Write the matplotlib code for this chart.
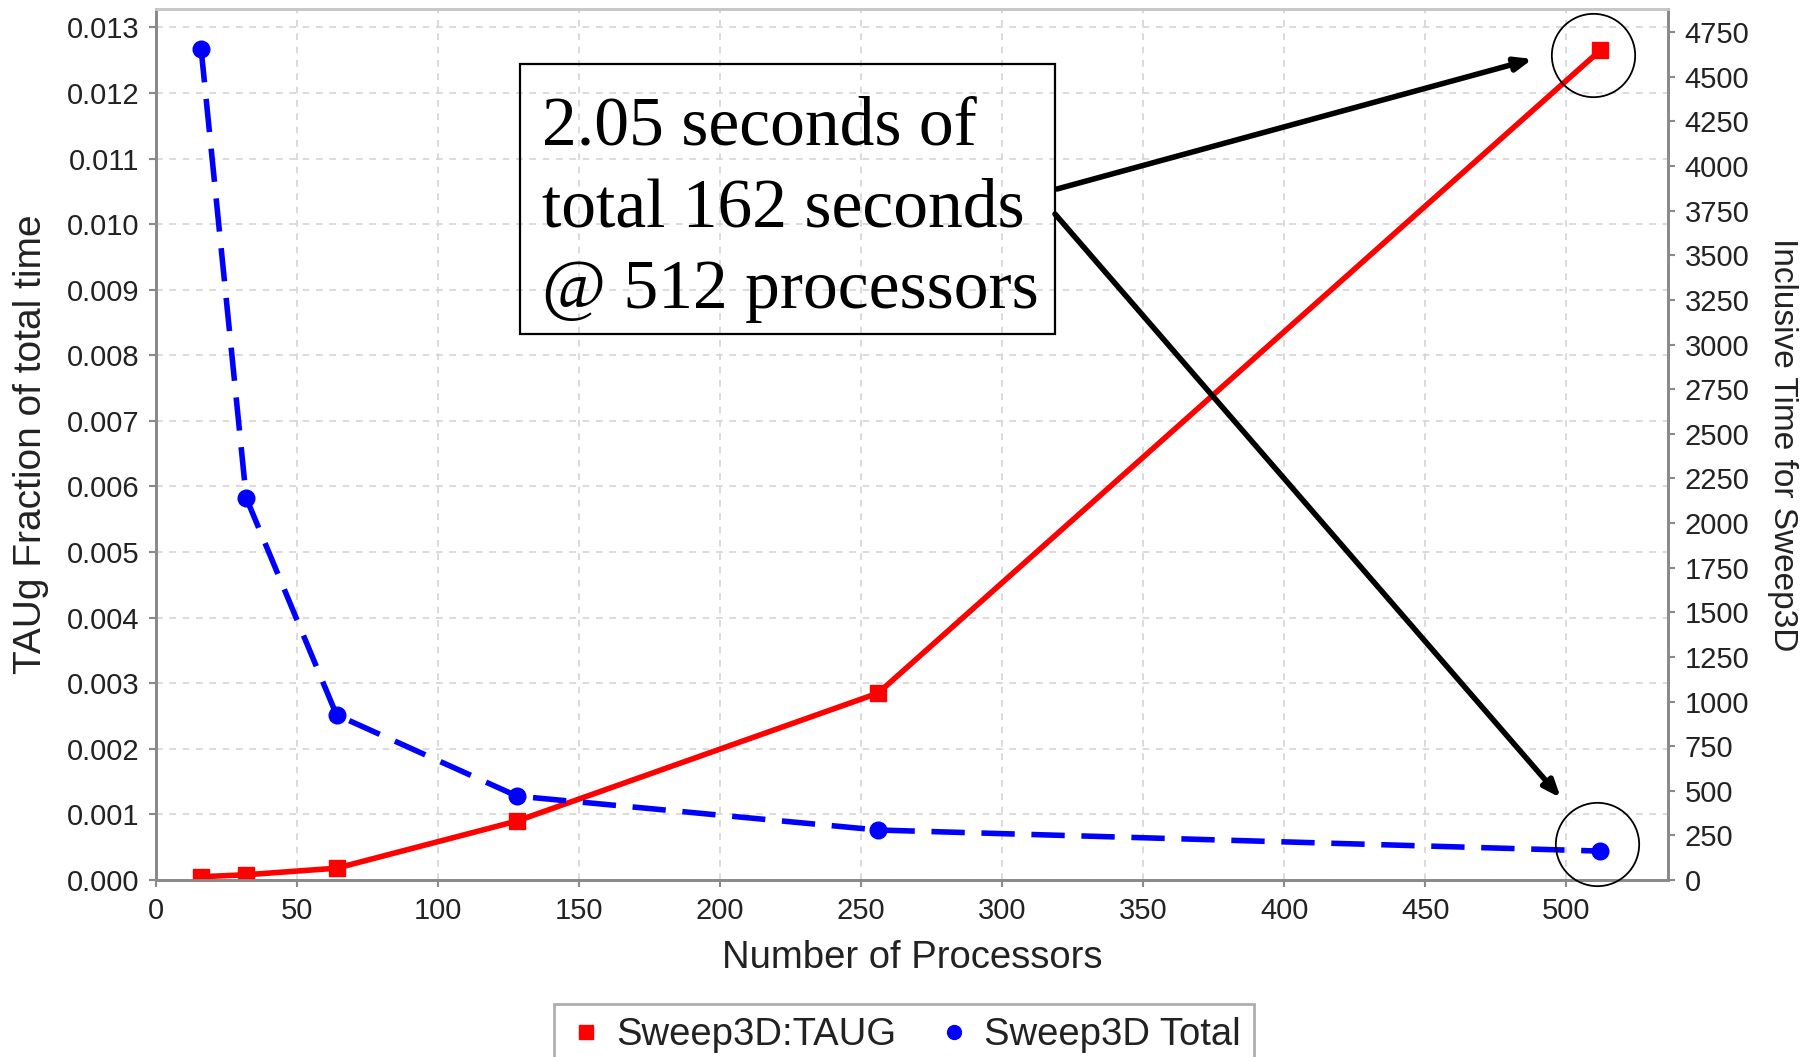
import matplotlib
matplotlib.use("Agg")
import matplotlib.pyplot as plt
from matplotlib.lines import Line2D
from matplotlib.patches import Rectangle
from matplotlib.transforms import offset_copy
import numpy as np

# ---- data ----
processors = [16, 32, 64, 128, 256, 512]
taug_fraction = [0.00005, 0.00008, 0.00018, 0.0009, 0.00285, 0.01265]
total_time = [4655, 2140, 925, 470, 280, 162]

x_ticks = list(range(0, 501, 50))
left_ticks = [i * 0.001 for i in range(0, 14)]
right_ticks = list(range(0, 4751, 250))

series_names = ["Sweep3D:TAUG", "Sweep3D Total"]
x_label = "Number of Processors"
left_label = "TAUg Fraction of total time"
right_label = "Inclusive Time for Sweep3D"
note_text = "2.05 seconds of\ntotal 162 seconds\n@ 512 processors"

plt.rcParams['font.family'] = ['Liberation Sans', 'DejaVu Sans']

W, H = 1814, 1057
fig = plt.figure(figsize=(W / 100, H / 100), dpi=100)
fig.patch.set_facecolor('white')

left_px, right_px, top_px, bottom_px = 156, 1668, 9, 880
ax = fig.add_axes([left_px / W, 1 - bottom_px / H, (right_px - left_px) / W, (bottom_px - top_px) / H])
ax2 = ax.twinx()

ax.set_xlim(0, 536)
ax.set_ylim(0, 0.01328)
ax2.set_ylim(0, 4880)

spine_gray = '#8a8a8a'
tick_color = '#222222'

# grid
ax.set_axisbelow(True)
ax.grid(True, color='#d4d4d4', linestyle=(0, (4, 4)), linewidth=1.2)

# lines
ax.plot(processors, taug_fraction, color='#ff0000', linewidth=4.0, marker='s',
        markersize=12, zorder=5, solid_joinstyle='miter')
ax2.plot(processors, total_time, color='#0000ff', linewidth=4.0, marker='o',
         markersize=12, dashes=(6.0, 3.0), zorder=5)

# ticks
ax.set_xticks(x_ticks)
ax.set_yticks(left_ticks)
ax.set_yticklabels([f"{v:.3f}" for v in left_ticks])
ax2.set_yticks(right_ticks)
ax2.set_yticklabels([str(v) for v in right_ticks])

for a in (ax, ax2):
    a.tick_params(axis='both', which='both', direction='out', length=5, width=1.5,
                  color=spine_gray, labelsize=21, labelcolor=tick_color, pad=7)
    for s in ['left', 'right', 'bottom']:
        a.spines[s].set_color(spine_gray)
        a.spines[s].set_linewidth(2)
    a.spines['top'].set_color('#c8c8c8')
    a.spines['top'].set_linewidth(2)

# labels
ax.set_xlabel(x_label, fontsize=27.5, color=tick_color)
ax.set_ylabel(left_label, fontsize=28, color=tick_color)
ax2.set_ylabel(right_label, fontsize=24, color=tick_color, rotation=270)
ax.xaxis.set_label_coords(0.50, -0.09)
ax.xaxis.label.set_va('center')
ax.yaxis.set_label_coords(-0.0827, 0.5)
ax.yaxis.label.set_va('center')
ax.yaxis.label.set_ha('center')
ax2.yaxis.set_label_coords(1.0754, 0.5)
ax2.yaxis.label.set_va('center')
ax2.yaxis.label.set_ha('center')

# annotation box (transparent, grid shows through)
box_x0, box_x1, box_y0, box_y1 = 519.5, 1055, 63.6, 334.4
fig.patches.append(Rectangle((box_x0 / W, 1 - box_y1 / H), (box_x1 - box_x0) / W, (box_y1 - box_y0) / H,
                             transform=fig.transFigure, facecolor='none', edgecolor='black',
                             linewidth=1.6, zorder=10))
fig.text(542 / W, 1 - 209.5 / H, note_text, fontsize=50, family='Liberation Serif',
         ha='left', va='center', linespacing=1.37, zorder=10)

# circles around last points
circ1_tr = offset_copy(ax.transData, fig=fig, x=-5.5, y=-3.3, units='points')
ax.plot(processors[-1:], taug_fraction[-1:], marker='o', markersize=60, fillstyle='none',
        markeredgecolor='black', markeredgewidth=1.3, linestyle='none',
        transform=circ1_tr, zorder=6, clip_on=False)
circ2_tr = offset_copy(ax2.transData, fig=fig, x=-2.5, y=5.0, units='points')
ax2.plot(processors[-1:], total_time[-1:], marker='o', markersize=60, fillstyle='none',
         markeredgecolor='black', markeredgewidth=1.3, linestyle='none',
         transform=circ2_tr, zorder=6, clip_on=False)

# arrows
arrow_kw = dict(arrowstyle='-|>,head_length=1.0,head_width=0.4', color='black',
                linewidth=4.0, shrinkA=0, shrinkB=0)
ax2.annotate('', xy=(488, 4600), xycoords='data',
             xytext=(1057 / W, 1 - 189 / H), textcoords='figure fraction',
             arrowprops=arrow_kw, zorder=11)
ax2.annotate('', xy=(498, 460), xycoords='data',
             xytext=(1055 / W, 1 - 214 / H), textcoords='figure fraction',
             arrowprops=arrow_kw, zorder=11)

# legend
handles = [
    Line2D([], [], color='#ff0000', marker='s', linestyle='none', markersize=10),
    Line2D([], [], color='#0000ff', marker='o', linestyle='none', markersize=10),
]
leg = fig.legend(handles, series_names, loc='upper center', bbox_to_anchor=(904 / W, 1 - 1004 / H),
                 ncol=2, fontsize=27.5, frameon=True, fancybox=False, edgecolor='#9a9a9a',
                 handletextpad=0.3, columnspacing=1.0, handlelength=1.0, borderpad=0.35,
                 borderaxespad=0)
leg.get_frame().set_linewidth(2)
for t in leg.get_texts():
    t.set_color(tick_color)

fig.savefig('out.png', dpi=100, facecolor='white')
